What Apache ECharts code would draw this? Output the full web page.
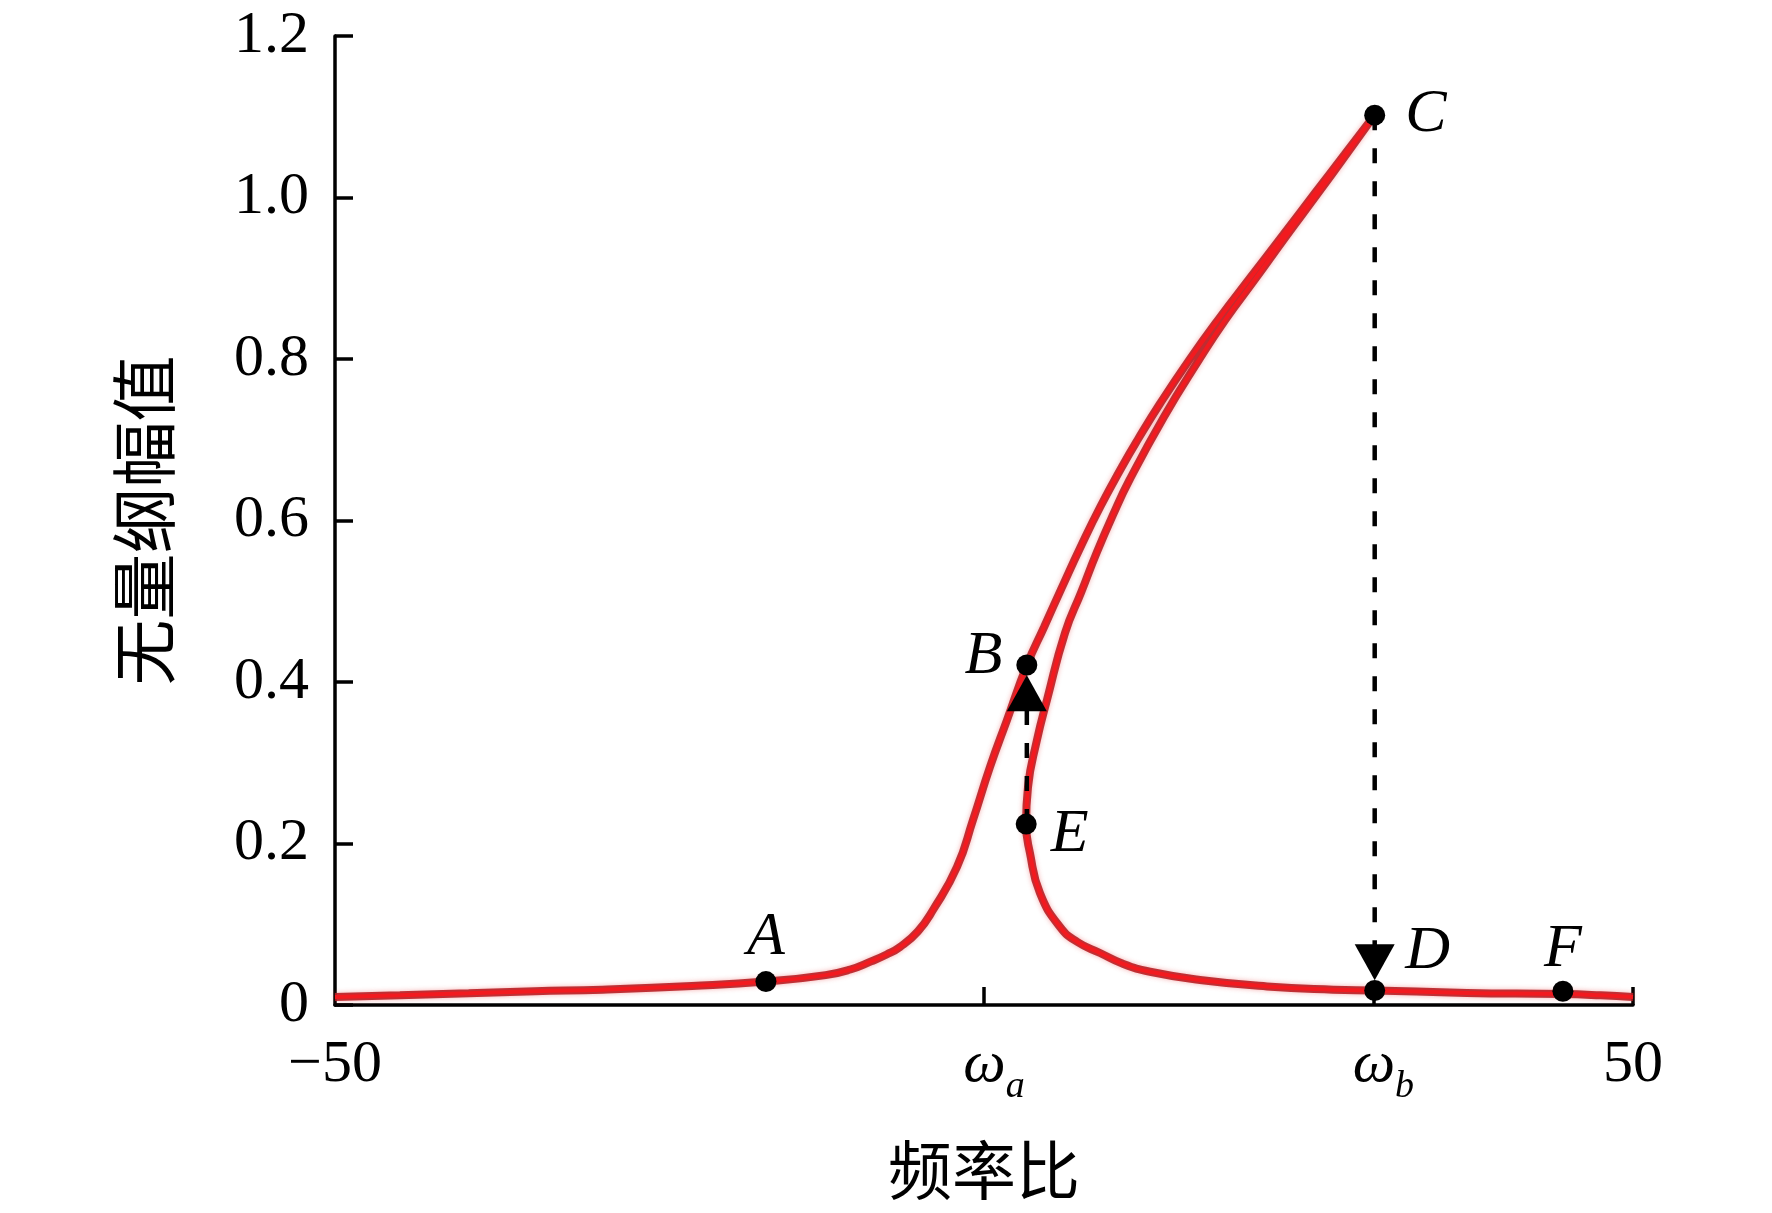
<!DOCTYPE html>
<html>
<head>
<meta charset="utf-8">
<script src="https://cdn.jsdelivr.net/npm/echarts@6/dist/echarts.min.js"></script>
<style>
  html, body { margin: 0; padding: 0; background: #fff; }
  #chart { width: 1772px; height: 1213px; }
</style>
</head>
<body>
<div id="chart"></div>
<script>
// 响应曲线：左下支 -> 上支到 C -> 中间支回到 E -> 右下支
let curveData = [
  [-50, 0.010], [-45, 0.012], [-39.7, 0.0145], [-34.6, 0.017], [-29.4, 0.019],
  [-22.5, 0.0235], [-16.8, 0.029], [-12.2, 0.037], [-10.3, 0.044], [-8.7, 0.054],
  [-7.5, 0.0625], [-6.47, 0.0718], [-5.1, 0.091], [-3.93, 0.1176], [-2.08, 0.1709],
  [-0.85, 0.2291], [0.46, 0.2947], [1.77, 0.3529], [3.31, 0.4211], [4.63, 0.4681],
  [5.97, 0.516], [7.44, 0.5672], [8.96, 0.617], [10.62, 0.6663], [11.84, 0.700],
  [13.59, 0.7455], [15.81, 0.7988], [18.15, 0.851], [20.55, 0.9015], [23.05, 0.954],
  [25.50, 1.0056], [27.76, 1.053], [30.09, 1.102],
  [27.90, 1.053], [25.58, 1.0019], [23.23, 0.951], [20.90, 0.8991], [18.61, 0.849],
  [16.56, 0.7988], [13.86, 0.7282], [11.21, 0.6502], [9.91, 0.606], [8.67, 0.5598],
  [7.51, 0.512], [6.24, 0.4607], [4.85, 0.3777], [4.08, 0.3282], [3.39, 0.2700],
  [3.24, 0.2241], [3.54, 0.1882], [4.31, 0.1387], [5.86, 0.0966], [7.2, 0.078],
  [8.94, 0.0644], [10.7, 0.051], [12.79, 0.0412], [16.64, 0.0310], [21.8, 0.023],
  [26.9, 0.019], [30.1, 0.018], [37.2, 0.015], [44.6, 0.0135], [47.5, 0.012], [50, 0.010]
];
let pointNames = ['A', 'B', 'C', 'D', 'E', 'F'];
let pointValues = [[-16.8, 0.029], [3.3, 0.421], [30.1, 1.102], [30.1, 0.018], [3.25, 0.224], [44.6, 0.017]];
let jumpUp = [[3.3, 0.224], [3.3, 0.372]];
let jumpDown = [[30.1, 1.102], [30.1, 0.070]];
let arrowUp = [[3.3, 0.386]];
let arrowDown = [[30.1, 0.053]];
let yTicks = [0, 0.2, 0.4, 0.6, 0.8, 1.0, 1.2];
let xLabelValues = [-50, 0, 30, 50];
let xTickValues = [0, 30, 50];

let serif = 'Liberation Serif';
let cjk = 'Noto Sans CJK SC';

let labelPos = {
  A: { position: 'top', distance: 2 },
  B: { position: 'left', offset: [0, -8], distance: 14 },
  C: { position: 'right', distance: 20 },
  D: { position: 'right', offset: [0, -39], distance: 20 },
  E: { position: 'right', offset: [0, 11], distance: 14 },
  F: { position: 'top', distance: 0 }
};

let pointData = [];
for (let i = 0; i < pointNames.length; i++) {
  let n = pointNames[i];
  pointData.push({
    name: n,
    value: pointValues[i],
    label: Object.assign({ show: true, formatter: n }, labelPos[n])
  });
}

let myChart = echarts.init(document.getElementById('chart'));
let option = {
  animation: false,
  backgroundColor: '#fff',
  grid: {
    left: 335,
    right: 139,
    top: 36,
    bottom: 208,
    containLabel: false,
    outerBoundsMode: 'none'
  },
  xAxis: {
    type: 'value',
    min: -50,
    max: 50,
    name: '频率比',
    nameLocation: 'middle',
    nameGap: 133,
    nameTextStyle: { fontFamily: cjk, fontSize: 64, color: '#000' },
    axisLine: { onZero: false, lineStyle: { color: '#000', width: 3.5 } },
    axisTick: {
      show: true,
      inside: true,
      length: 18,
      customValues: xTickValues,
      lineStyle: { color: '#000', width: 3.5 }
    },
    axisLabel: {
      customValues: xLabelValues,
      margin: 10,
      color: '#000',
      formatter: function (v) {
        if (v === 0) return '{w|ω}{s|a}';
        if (v === 30) return '{w|ω}{s|b}';
        if (v < 0) return '{n|−' + Math.abs(v) + '}';
        return '{n|' + v + '}';
      },
      rich: {
        n: { fontFamily: serif, fontSize: 60, lineHeight: 100, color: '#000' },
        w: { fontFamily: serif, fontStyle: 'italic', fontSize: 60, lineHeight: 100, color: '#000', padding: [0, 0, 0, 20] },
        s: { fontFamily: serif, fontStyle: 'italic', fontSize: 38, lineHeight: 38, color: '#000', padding: [44, 0, 0, 0] }
      }
    },
    splitLine: { show: false }
  },
  yAxis: {
    type: 'value',
    min: 0,
    max: 1.2,
    interval: 0.2,
    name: '无量纲幅值',
    nameLocation: 'middle',
    nameRotate: 90,
    nameGap: 158,
    nameTextStyle: { fontFamily: cjk, fontSize: 66, color: '#000' },
    axisLine: { show: true, onZero: false, lineStyle: { color: '#000', width: 3.5 } },
    axisTick: { show: true, inside: true, length: 18, lineStyle: { color: '#000', width: 3.5 } },
    axisLabel: {
      margin: 26,
      color: '#000',
      fontFamily: serif,
      fontSize: 60,
      customValues: yTicks,
      formatter: function (v) {
        return v === 0 ? '0' : v.toFixed(1);
      }
    },
    splitLine: { show: false }
  },
  series: [
    {
      name: '幅频曲线底',
      type: 'line',
      data: curveData,
      smooth: 0.5,
      showSymbol: false,
      silent: true,
      lineStyle: {
        color: 'rgba(185,30,35,0.9)',
        width: 8,
        shadowBlur: 5,
        shadowColor: 'rgba(230,60,60,0.45)'
      },
      z: 2
    },
    {
      name: '幅频曲线',
      type: 'line',
      data: curveData,
      smooth: 0.5,
      showSymbol: false,
      lineStyle: { color: '#f21a1f', width: 4 },
      z: 3
    },
    {
      name: '跳升',
      type: 'line',
      data: jumpUp,
      showSymbol: false,
      lineStyle: { color: '#000', width: 4.5, type: [15, 18] },
      z: 4
    },
    {
      name: '跳降',
      type: 'line',
      data: jumpDown,
      showSymbol: false,
      lineStyle: { color: '#000', width: 4.5, type: [15, 18] },
      z: 4
    },
    {
      name: '箭头上',
      type: 'scatter',
      data: arrowUp,
      symbol: 'triangle',
      symbolSize: [40, 36],
      itemStyle: { color: '#000', opacity: 1 },
      z: 5
    },
    {
      name: '箭头下',
      type: 'scatter',
      data: arrowDown,
      symbol: 'triangle',
      symbolRotate: 180,
      symbolSize: [40, 36],
      itemStyle: { color: '#000', opacity: 1 },
      z: 5
    },
    {
      name: '特征点',
      type: 'scatter',
      data: pointData,
      symbol: 'circle',
      symbolSize: 21,
      itemStyle: { color: '#000', opacity: 1 },
      label: {
        color: '#000',
        fontFamily: serif,
        fontStyle: 'italic',
        fontSize: 62
      },
      z: 6
    }
  ]
};
myChart.setOption(option);
</script>
</body>
</html>
